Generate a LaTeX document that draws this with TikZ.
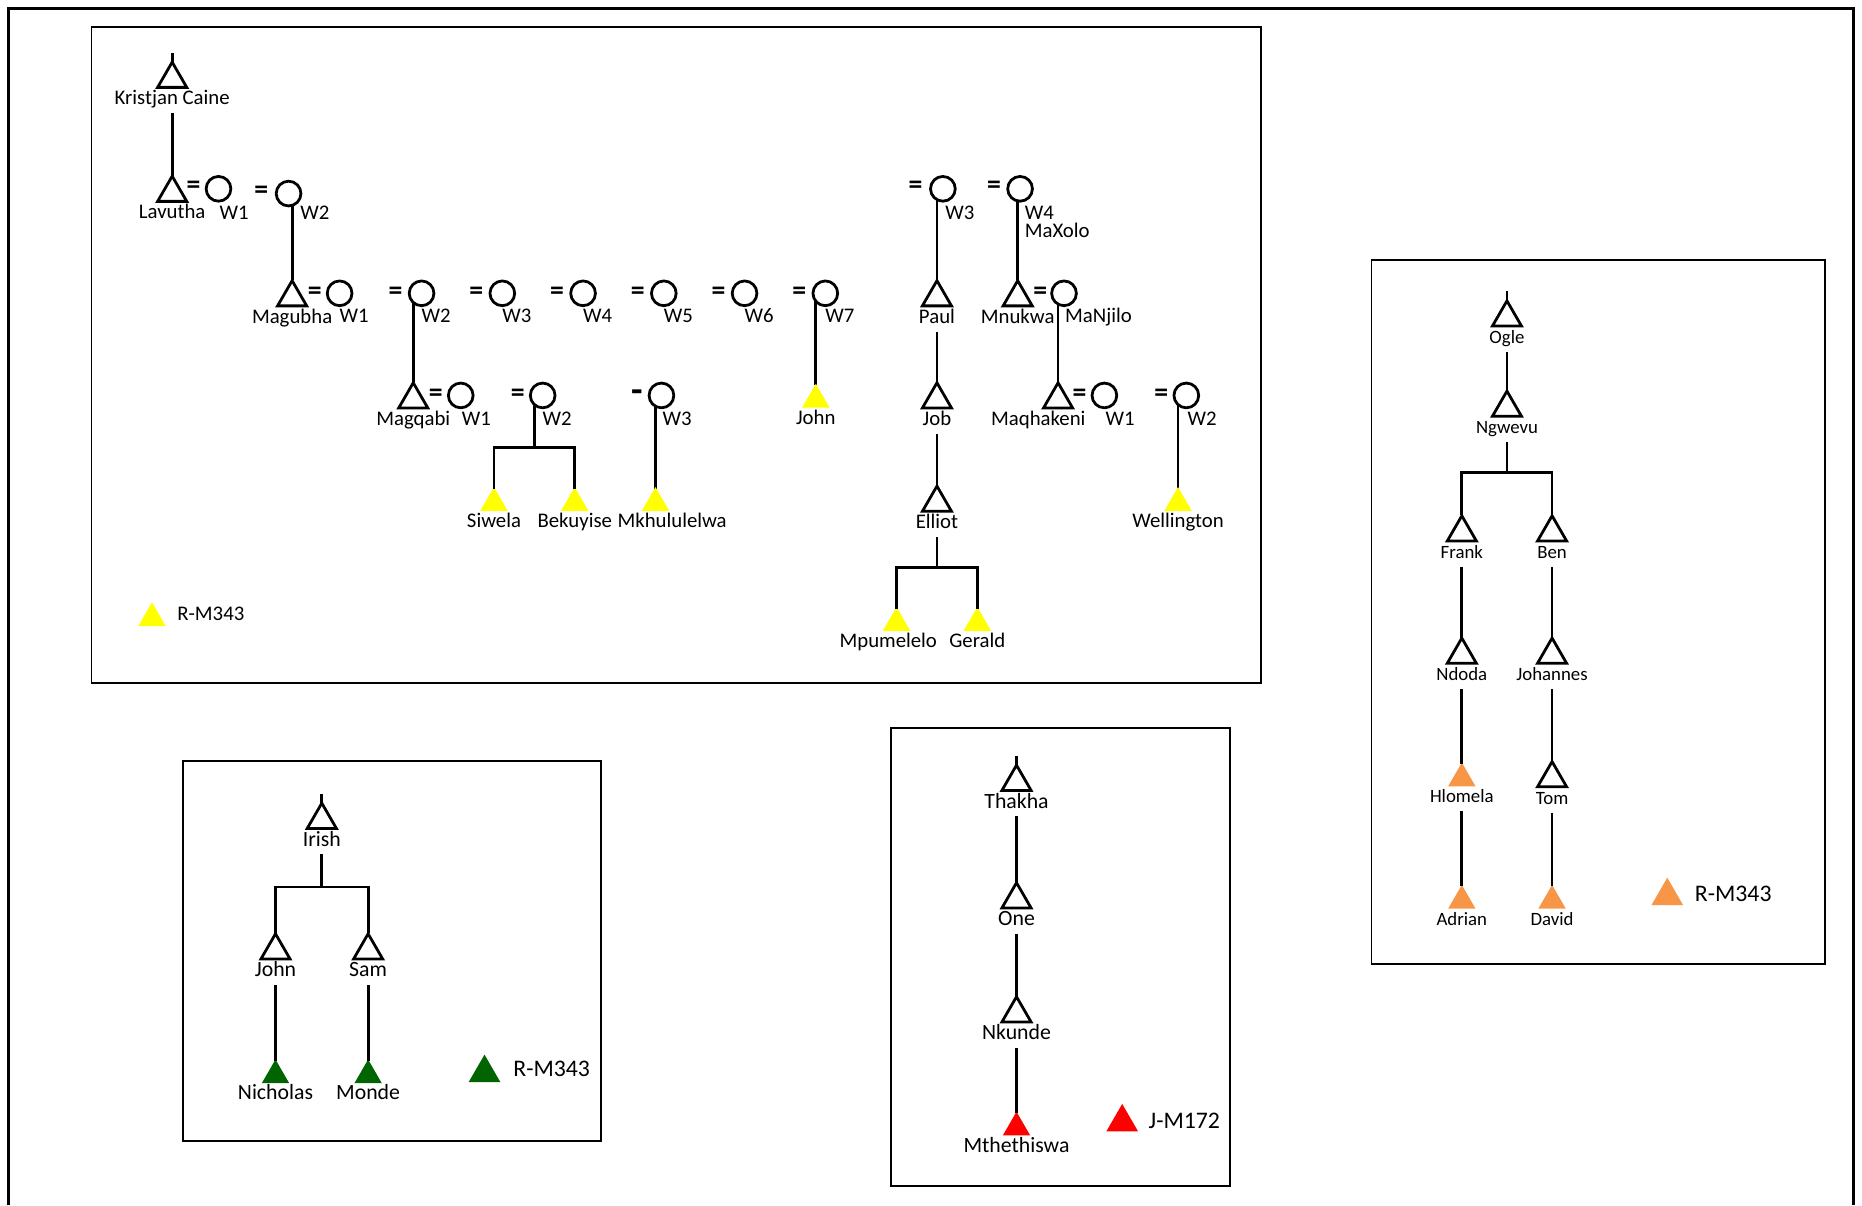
\documentclass[tikz,border=0pt]{standalone}
\usepackage{fontspec}
\setmainfont{Carlito}
\usetikzlibrary{positioning,shapes.geometric,backgrounds}
\definecolor{hapY}{RGB}{255,255,0}
\definecolor{hapG}{RGB}{0,100,0}
\definecolor{hapR}{RGB}{255,0,0}
\definecolor{hapO}{RGB}{247,150,70}

\begin{document}
\begin{tikzpicture}[x=0.6pt,y=-0.6pt,font=\fontsize{10.5}{12}\selectfont]
  \tikzset{man/.style={regular polygon,regular polygon sides=3,draw,line width=1.4pt,minimum size=17pt,inner sep=0pt},
    hap/.style={regular polygon,regular polygon sides=3,fill=#1,minimum size=16pt,inner sep=0pt},
    legtri/.style={regular polygon,regular polygon sides=3,fill=#1,minimum size=18.5pt,inner sep=0pt},
    wife/.style={circle,draw,fill=white,line width=1.4pt,minimum size=12.5pt,inner sep=0pt},
    nm/.style={inner sep=1pt,text height=7pt,text depth=2pt},
    nmg/.style={nm,font=\fontsize{11}{13}\selectfont},
    nmo/.style={nm,font=\fontsize{9.5}{11}\selectfont},
    wl/.style={nm,anchor=west},
    lgt/.style={anchor=west,inner sep=0pt,font=\fontsize{12}{14}\selectfont},
    eq/.style={inner sep=0pt,font=\bfseries\fontsize{14}{14}\selectfont},
    tie/.style={line width=1.4pt},
    reach/.style={tie,shorten >=-1.2pt},
    box/.style={line width=0.9pt}}
  \useasboundingbox (0,0) rectangle (1568,1015);
  \draw[line width=1.3pt] (7,1015) -- (7,7) -- (1561,7) -- (1561,1015);

  \draw[box] (77,23) rectangle (1062,575);
  \coordinate (kctop) at (145,45);
  \node[man] (kc) at (145,66.5) {};
  \node[nm,below=0pt of kc] (kcl) {Kristjan Caine};
  \node[man] (lav) at (145,162.5) {};
  \node[nm,below=0pt of lav] (lavl) {Lavutha};
  \node[eq] (le1) at (163,158) {=};
  \node[wife] (lw1) at (184,159) {};
  \node[wl] (lwl1) at (183,181) {W1};
  \node[eq] (le2) at (220,162) {=};
  \node[wife] (lw2) at (243,163) {};
  \node[wl] (lwl2) at (251,181) {W2};
  \node[man] (mag) at (246,250.5) {};
  \node[nm,below=0pt of mag] (magl) {Magubha};
  \node[eq] (me1) at (265,247) {=};
  \node[wife] (mw1) at (286,247) {};
  \node[wl] (mwl1) at (284,267) {W1};
  \foreach \k in {2,...,7} {
    \node[eq] (me\k) at ({333+68*(\k-2)},247) {=};
    \node[wife] (mw\k) at ({355+68*(\k-2)},247) {};
    \node[wl] (mwl\k) at ({353+68*(\k-2)},267) {W\k};
  }
  \node[eq] (pe3) at (771,158) {=};
  \node[wife] (pw3) at (794,159) {};
  \node[wl] (pwl3) at (794,181) {W3};
  \node[eq] (pe4) at (837,158) {=};
  \node[wife] (pw4) at (859,159) {};
  \node[wl] (pwl4) at (861,181) {W4};
  \node[wl] (pwlx) at (861,196) {MaXolo};
  \node[man] (paul) at (789,250.5) {};
  \node[nm,below=0pt of paul] (paull) {Paul};
  \node[man] (mnk) at (857,250.5) {};
  \node[nm,below=0pt of mnk] (mnkl) {Mnukwa};
  \node[eq] (ne) at (876,247) {=};
  \node[wife] (mnj) at (896,247) {};
  \node[wl] (mnjl) at (895,267) {MaNjilo};
  \node[man] (mgq) at (348,336.5) {};
  \node[nm,below=0pt of mgq] (mgql) {Magqabi};
  \node[eq] (qe1) at (367,333) {=};
  \node[wife] (qw1) at (388,333) {};
  \node[wl] (qwl1) at (387,354) {W1};
  \node[eq] (qe2) at (436,333) {=};
  \node[wife] (qw2) at (457,333) {};
  \node[wl] (qwl2) at (455,354) {W2};
  \node[eq,font=\bfseries\fontsize{19}{19}\selectfont] (qe3) at (537,334) {-};
  \node[wife] (qw3) at (557,333) {};
  \node[wl] (qwl3) at (556,354) {W3};
  \node[hap=hapY] (john) at (687,336.5) {};
  \node[nm,below=0pt of john] (johnl) {John};
  \node[man] (job) at (789,336.5) {};
  \node[nm,below=0pt of job] (jobl) {Job};
  \node[man] (mqh) at (891,336.5) {};
  \node[nm,below=0pt of mqh,xshift=-10pt] (mqhl) {Maqhakeni};
  \node[eq] (he1) at (909,333) {=};
  \node[wife] (hw1) at (930,333) {};
  \node[wl] (hwl1) at (929,354) {W1};
  \node[eq] (he2) at (978,333) {=};
  \node[wife] (hw2) at (999,333) {};
  \node[wl] (hwl2) at (998,354) {W2};
  \coordinate (qfork) at (450,377);
  \node[hap=hapY] (siw) at (416,423.5) {};
  \node[nm,below=0pt of siw] (siwl) {Siwela};
  \node[hap=hapY] (bek) at (484,423.5) {};
  \node[nm,below=0pt of bek] (bekl) {Bekuyise};
  \node[hap=hapY] (mkh) at (552,423.5) {};
  \node[nm,below=0pt of mkh,xshift=8.4pt] (mkhl) {Mkhululelwa};
  \node[man] (ell) at (789,423.5) {};
  \node[nm,below=0pt of ell] (elll) {Elliot};
  \node[hap=hapY] (wel) at (992,423.5) {};
  \node[nm,below=0pt of wel] (well) {Wellington};
  \coordinate (efork) at (789,478);
  \node[hap=hapY] (mpu) at (755,524.5) {};
  \node[nm,below=0pt of mpu,xshift=-4.2pt] (mpul) {Mpumelelo};
  \node[hap=hapY] (ger) at (823,524.5) {};
  \node[nm,below=0pt of ger] (gerl) {Gerald};
  \node[hap=hapY] (lgy) at (128,520.5) {};
  \node[lgt,font=\fontsize{10.5}{12}\selectfont] (lgyt) at (149,517) {R-M343};

  \begin{scope}[on background layer]
    \foreach \c/\s in {lw2/mag,mw2/mgq,mw7/john,pw3/paul,pw4/mnk,mnj/mqh,qw3/mkh,hw2/wel}
      \draw[tie,shorten <=-1.2pt] (\s.north) -- (\s.north |- \c.center);
    \draw[tie] (qfork) -- (qfork |- qw2.center);
  \end{scope}
  \draw[reach] (kctop) -- (kc.north);
  \foreach \a/\b in {kcl/lav,paull/job,jobl/ell}
    \draw[reach,shorten <=1pt] (\a.south) -- (\b.north);
  \draw[reach,shorten <=-1.2pt] (siw.north) |- (qfork) -| (bek.north);
  \draw[tie,shorten <=1pt] (elll.south) -- (efork);
  \draw[reach,shorten <=-1.2pt] (mpu.north) |- (efork) -| (ger.north);

  \draw[box] (154,641) rectangle (506,961);
  \coordinate (iritop) at (271,669);
  \node[man] (iri) at (271,690.5) {};
  \node[nmg,below=0pt of iri] (iril) {Irish};
  \coordinate (ifork) at (271,747);
  \node[man] (jon) at (232,800.5) {};
  \node[nmg,below=0pt of jon] (jonl) {John};
  \node[man] (sam) at (310,800.5) {};
  \node[nmg,below=0pt of sam] (saml) {Sam};
  \node[hap=hapG] (nic) at (232,905.5) {};
  \node[nmg,below=0pt of nic] (nicl) {Nicholas};
  \node[hap=hapG] (mon) at (310,905.5) {};
  \node[nmg,below=0pt of mon] (monl) {Monde};
  \node[legtri=hapG] (lgg) at (408,903.5) {};
  \node[lgt] (lggt) at (432,900) {R-M343};
  \draw[reach] (iritop) -- (iri.north);
  \draw[tie,shorten <=1pt] (iril.south) -- (ifork);
  \draw[reach,shorten <=-1.2pt] (jon.north) |- (ifork) -| (sam.north);
  \foreach \a/\b in {jonl/nic,saml/mon}
    \draw[reach,shorten <=1pt] (\a.south) -- (\b.north);

  \draw[box] (750,613) rectangle (1036,999);
  \coordinate (thatop) at (856,637);
  \node[man] (tha) at (856,658.5) {};
  \node[nmg,below=0pt of tha] (thal) {Thakha};
  \node[man] (one) at (856,757.5) {};
  \node[nmg,below=0pt of one] (onel) {One};
  \node[man] (nku) at (856,853.5) {};
  \node[nmg,below=0pt of nku] (nkul) {Nkunde};
  \node[hap=hapR] (mth) at (856,949.5) {};
  \node[nmg,below=0pt of mth] (mthl) {Mthethiswa};
  \node[legtri=hapR] (lgr) at (945,945) {};
  \node[lgt] (lgrt) at (967,944) {J-M172};
  \draw[reach] (thatop) -- (tha.north);
  \foreach \a/\b in {thal/one,onel/nku,nkul/mth}
    \draw[reach,shorten <=1pt] (\a.south) -- (\b.north);

  \draw[box] (1155,219) rectangle (1537,812);
  \coordinate (ogltop) at (1269,245);
  \node[man] (ogl) at (1269,267.5) {};
  \node[nmo,below=0pt of ogl] (ogll) {Ogle};
  \node[man] (ngw) at (1269,343.5) {};
  \node[nmo,below=0pt of ngw] (ngwl) {Ngwevu};
  \coordinate (ofork) at (1269,398);
  \node[man] (frk) at (1231,448.5) {};
  \node[nmo,below=0pt of frk] (frkl) {Frank};
  \node[man] (ben) at (1307,448.5) {};
  \node[nmo,below=0pt of ben] (benl) {Ben};
  \node[man] (ndo) at (1231,551.5) {};
  \node[nmo,below=0pt of ndo] (ndol) {Ndoda};
  \node[man] (joh) at (1307,551.5) {};
  \node[nmo,below=0pt of joh] (johl) {Johannes};
  \node[hap=hapO] (hlo) at (1231,655.5) {};
  \node[nmo,below=0pt of hlo] (hlol) {Hlomela};
  \node[man] (tom) at (1307,655.5) {};
  \node[nmo,below=0pt of tom] (toml) {Tom};
  \node[hap=hapO] (adr) at (1231,758.5) {};
  \node[nmo,below=0pt of adr] (adrl) {Adrian};
  \node[hap=hapO] (dav) at (1307,758.5) {};
  \node[nmo,below=0pt of dav] (davl) {David};
  \node[legtri=hapO] (lgo) at (1404,754.5) {};
  \node[lgt] (lgot) at (1427,753) {R-M343};
  \draw[reach] (ogltop) -- (ogl.north);
  \draw[reach,shorten <=1pt] (ogll.south) -- (ngw.north);
  \draw[tie,shorten <=1pt] (ngwl.south) -- (ofork);
  \draw[reach,shorten <=-1.2pt] (frk.north) |- (ofork) -| (ben.north);
  \foreach \a/\b in {frkl/ndo,benl/joh,ndol/hlo,johl/tom,hlol/adr,toml/dav}
    \draw[reach,shorten <=1pt] (\a.south) -- (\b.north);
\end{tikzpicture}
\end{document}
